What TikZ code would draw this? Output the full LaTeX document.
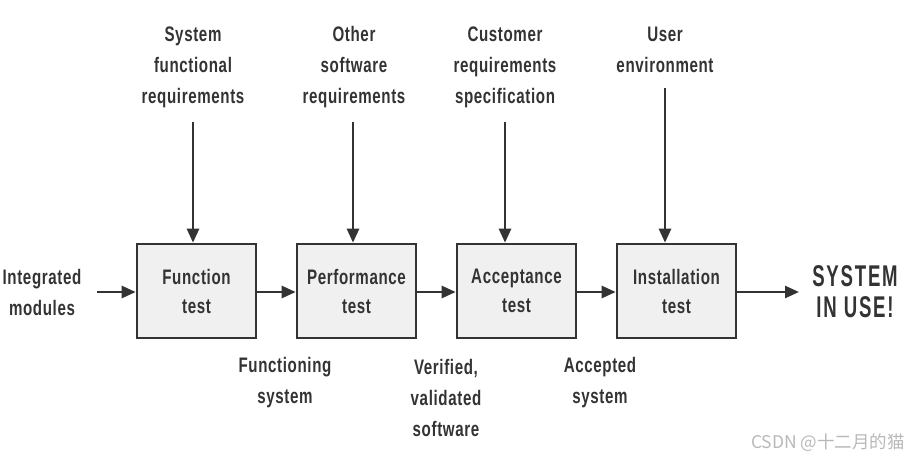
\documentclass[tikz,border=0pt]{standalone}
\usepackage{fontspec}
\usetikzlibrary{arrows.meta}
\newfontfamily\hand[FakeStretch=0.72,LetterSpace=3]{Liberation Sans}
\newfontfamily\handbig[FakeStretch=0.62,LetterSpace=6]{Liberation Sans}
\newfontfamily\cjk{Noto Sans CJK SC}
\definecolor{ink}{HTML}{333333}
\definecolor{boxfill}{HTML}{F0F0F0}
\tikzset{
  lbl/.style={align=center, text=ink, font=\hand\bfseries\fontsize{21}{31}\selectfont, inner sep=0pt},
  stage/.style={draw=ink, line width=2.6pt, fill=boxfill, minimum width=119pt, minimum height=94pt, align=center, text=ink, font=\hand\bfseries\fontsize{21}{29}\selectfont},
  flow/.style={draw=ink, line width=2.6pt, -{Triangle[length=14pt,width=12pt]}},
}
\begin{document}
\begin{tikzpicture}[x=1pt,y=-1pt]
\useasboundingbox (0,0) rectangle (909,459);
% boxes
\node[stage] (b1) at (196.5,291) {Function\\test};
\node[stage] (b2) at (356.5,291) {Performance\\test};
\node[stage] (b3) at (516.5,291) {Acceptance\\test};
\node[stage] (b4) at (676.5,291) {Installation\\test};
% top labels
\node[lbl] (t1) at (193,67) {System\\functional\\requirements};
\node[lbl] (t2) at (354,67) {Other\\software\\requirements};
\node[lbl] (t3) at (505,67) {Customer\\requirements\\specification};
\node[lbl] (t4) at (665,50) {User\\environment};
% bottom labels
\node[lbl] (in) at (42,292) {Integrated\\modules};
\node[lbl] (l1) at (285,383) {Functioning\\system};
\node[lbl] (l2) at (446,398) {Verified,\\validated\\software};
\node[lbl] (l3) at (600,383) {Accepted\\system};
\node[align=center, text=ink, inner sep=0pt, font=\handbig\bfseries\fontsize{30}{31}\selectfont] (out) at (855,292) {SYSTEM\\IN USE!};
% arrow anchors
\coordinate (s0) at (97,292);
\coordinate (e0) at (799,292);
\coordinate (v1) at (193,122);
\coordinate (v2) at (353,122);
\coordinate (v3) at (505,122);
\coordinate (v4) at (665,88);
% connectors
\draw[flow] (s0) -- (b1.west |- s0);
\draw[flow] (b1.east |- s0) -- (b2.west |- s0);
\draw[flow] (b2.east |- s0) -- (b3.west |- s0);
\draw[flow] (b3.east |- s0) -- (b4.west |- s0);
\draw[flow] (b4.east |- s0) -- (e0);
\draw[flow] (v1) -- (v1 |- b1.north);
\draw[flow] (v2) -- (v2 |- b2.north);
\draw[flow] (v3) -- (v3 |- b3.north);
\draw[flow] (v4) -- (v4 |- b4.north);
% watermark
\node[text=black!28, font=\cjk\fontsize{17.5}{20}\selectfont, inner sep=0pt] (wm) at (828,443) {CSDN @十二月的猫};
\end{tikzpicture}
\end{document}
